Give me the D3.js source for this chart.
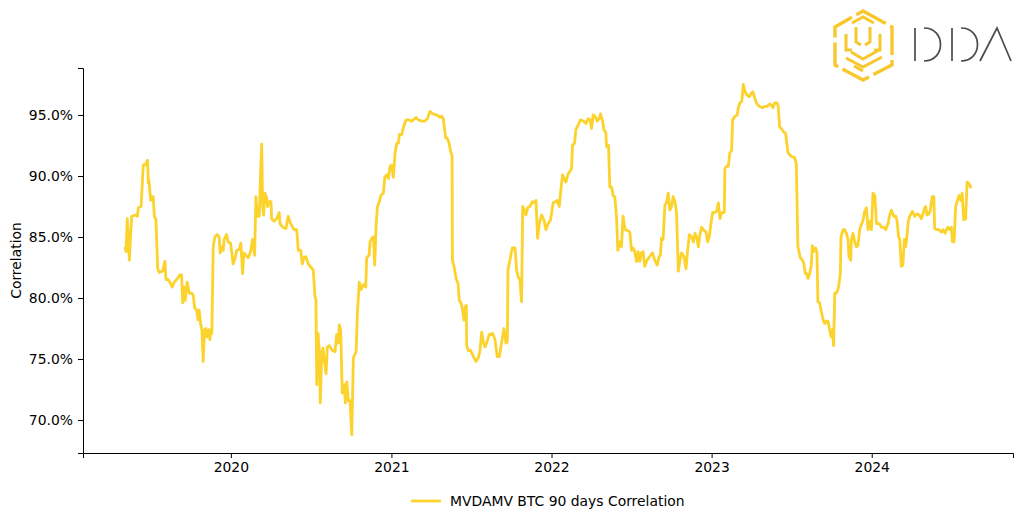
<!DOCTYPE html>
<html>
<head>
<meta charset="utf-8">
<script src="https://cdn.jsdelivr.net/npm/d3@7"></script>
<style>
  html, body { margin: 0; padding: 0; background: #ffffff; }
  svg { display: block; font-family: "DejaVu Sans", sans-serif; }
</style>
</head>
<body>
<svg id="chart" width="1023" height="524"></svg>
<script>
// ---- DATA (dates as decimal years, values in %) ----
const seriesName = "MVDAMV BTC 90 days Correlation";
const dates = [
2019.339,2019.345,2019.353,2019.366,2019.374,2019.381,2019.401,2019.416,2019.422,2019.439,
2019.453,2019.465,2019.480,2019.484,2019.488,2019.499,2019.505,2019.515,2019.522,2019.532,
2019.543,2019.553,2019.574,2019.588,2019.595,2019.609,2019.619,2019.634,2019.646,2019.661,
2019.682,2019.692,2019.699,2019.707,2019.715,2019.727,2019.740,2019.755,2019.765,2019.774,
2019.786,2019.796,2019.802,2019.811,2019.819,2019.827,2019.836,2019.844,2019.852,2019.863,
2019.869,2019.875,2019.881,2019.890,2019.900,2019.915,2019.927,2019.933,2019.944,2019.952,
2019.958,2019.973,2019.983,2019.998,2020.008,2020.014,2020.027,2020.036,2020.052,2020.062,
2020.073,2020.081,2020.094,2020.108,2020.123,2020.135,2020.148,2020.156,2020.164,2020.177,
2020.183,2020.192,2020.198,2020.204,2020.212,2020.223,2020.229,2020.239,2020.250,2020.254,
2020.268,2020.285,2020.301,2020.306,2020.323,2020.343,2020.357,2020.372,2020.385,2020.393,
2020.410,2020.420,2020.435,2020.445,2020.455,2020.466,2020.482,2020.493,2020.513,2020.524,
2020.530,2020.535,2020.543,2020.551,2020.557,2020.566,2020.574,2020.582,2020.593,2020.601,
2020.613,2020.622,2020.634,2020.649,2020.659,2020.669,2020.676,2020.684,2020.694,2020.707,
2020.713,2020.722,2020.732,2020.742,2020.753,2020.763,2020.780,2020.788,2020.800,2020.811,
2020.825,2020.840,2020.846,2020.861,2020.867,2020.878,2020.888,2020.896,2020.905,2020.913,
2020.925,2020.934,2020.950,2020.959,2020.971,2020.981,2020.992,2021.002,2021.012,2021.023,
2021.034,2021.044,2021.050,2021.065,2021.075,2021.092,2021.106,2021.127,2021.137,2021.154,
2021.168,2021.190,2021.210,2021.225,2021.241,2021.258,2021.283,2021.304,2021.314,2021.324,
2021.339,2021.349,2021.360,2021.370,2021.379,2021.381,2021.391,2021.404,2021.416,2021.424,
2021.435,2021.445,2021.453,2021.462,2021.468,2021.470,2021.480,2021.495,2021.512,2021.528,
2021.543,2021.553,2021.564,2021.574,2021.584,2021.595,2021.611,2021.632,2021.647,2021.661,
2021.674,2021.689,2021.703,2021.716,2021.724,2021.728,2021.740,2021.755,2021.772,2021.782,
2021.792,2021.803,2021.813,2021.820,2021.830,2021.840,2021.851,2021.865,2021.880,2021.890,
2021.903,2021.913,2021.924,2021.938,2021.953,2021.965,2021.979,2021.994,2022.010,2022.027,
2022.036,2022.049,2022.057,2022.069,2022.079,2022.090,2022.102,2022.115,2022.125,2022.131,
2022.144,2022.152,2022.167,2022.181,2022.198,2022.215,2022.229,2022.240,2022.250,2022.260,
2022.271,2022.285,2022.298,2022.306,2022.319,2022.327,2022.339,2022.344,2022.356,2022.364,
2022.375,2022.385,2022.395,2022.406,2022.414,2022.427,2022.437,2022.447,2022.460,2022.479,
2022.489,2022.500,2022.510,2022.520,2022.531,2022.541,2022.551,2022.562,2022.572,2022.582,
2022.597,2022.614,2022.631,2022.645,2022.660,2022.672,2022.680,2022.687,2022.697,2022.708,
2022.718,2022.729,2022.739,2022.750,2022.760,2022.771,2022.781,2022.792,2022.802,2022.812,
2022.827,2022.840,2022.850,2022.861,2022.875,2022.886,2022.896,2022.907,2022.917,2022.927,
2022.938,2022.948,2022.965,2022.975,2022.985,2022.996,2023.006,2023.017,2023.031,2023.042,
2023.052,2023.062,2023.079,2023.083,2023.094,2023.104,2023.114,2023.125,2023.131,2023.146,
2023.160,2023.167,2023.177,2023.188,2023.198,2023.209,2023.223,2023.236,2023.248,2023.258,
2023.269,2023.279,2023.290,2023.300,2023.317,2023.331,2023.346,2023.362,2023.373,2023.383,
2023.394,2023.408,2023.415,2023.425,2023.435,2023.450,2023.462,2023.471,2023.477,2023.498,
2023.519,2023.529,2023.539,2023.554,2023.567,2023.576,2023.585,2023.595,2023.602,2023.612,
2023.622,2023.629,2023.637,2023.650,2023.658,2023.664,2023.675,2023.685,2023.695,2023.706,
2023.716,2023.727,2023.737,2023.747,2023.754,2023.762,2023.769,2023.779,2023.789,2023.796,
2023.804,2023.808,2023.821,2023.831,2023.842,2023.852,2023.858,2023.869,2023.873,2023.883,
2023.894,2023.904,2023.914,2023.925,2023.935,2023.946,2023.956,2023.967,2023.977,2023.988,
2023.998,2024.008,2024.019,2024.025,2024.029,2024.046,2024.061,2024.075,2024.087,2024.102,
2024.112,2024.123,2024.137,2024.150,2024.158,2024.167,2024.175,2024.184,2024.194,2024.203,
2024.212,2024.220,2024.228,2024.237,2024.253,2024.268,2024.282,2024.295,2024.309,2024.319,
2024.330,2024.336,2024.344,2024.357,2024.365,2024.377,2024.387,2024.392,2024.402,2024.419,
2024.433,2024.444,2024.457,2024.465,2024.475,2024.486,2024.496,2024.503,2024.513,2024.523,
2024.534,2024.544,2024.554,2024.563,2024.573,2024.585,2024.594,2024.604,2024.615,2024.621
];
const correlation = [
84.2,83.8,86.5,83.1,85.3,86.7,86.8,86.7,87.4,87.5,
90.9,90.9,91.3,89.4,89.7,88.0,88.3,88.3,86.7,86.4,
82.4,82.1,82.2,83.0,81.5,81.5,81.3,80.9,81.3,81.5,
81.9,81.9,79.6,80.9,79.8,81.3,80.4,80.4,80.2,79.2,
79.0,78.2,79.0,77.9,77.4,74.8,77.4,77.5,76.8,77.4,
76.6,77.4,77.1,84.2,85.0,85.2,85.0,83.7,84.2,83.9,
84.8,85.2,84.6,84.5,83.5,82.8,83.3,83.9,84.0,84.5,
82.0,83.7,83.5,83.3,83.8,84.8,83.5,88.3,86.7,86.7,
89.4,92.6,87.5,86.8,88.6,88.2,87.5,87.9,87.9,86.5,
86.3,86.5,87.0,86.1,85.8,85.7,86.7,86.1,85.8,85.6,
85.6,83.9,83.9,82.8,83.3,83.4,82.8,82.6,82.3,80.1,
79.8,72.9,77.1,75.7,71.4,75.5,75.9,74.9,73.8,76.0,
76.1,75.9,75.7,75.6,77.0,76.3,77.8,77.4,72.2,72.9,
71.4,73.1,71.6,71.6,68.8,75.1,75.6,78.7,81.3,80.7,
81.1,80.9,83.3,83.5,84.6,84.9,85.0,82.7,86.1,87.5,
87.9,88.4,88.6,89.9,90.1,89.8,90.8,90.9,89.9,91.9,
92.7,92.7,93.4,93.4,94.0,94.6,94.6,94.5,94.6,94.8,
94.6,94.5,94.5,94.7,95.3,95.1,95.0,94.8,94.9,94.7,
93.1,93.1,92.7,92.0,91.6,83.1,82.6,81.6,81.2,79.8,
79.6,79.0,78.2,79.3,79.4,76.1,75.7,75.7,75.2,74.8,
75.1,75.7,77.2,76.4,76.0,76.3,77.0,77.1,76.6,75.2,
75.2,76.4,77.5,76.3,76.4,82.3,83.1,84.1,84.1,82.3,
81.7,81.5,79.7,87.5,87.2,86.8,87.4,87.5,87.9,87.8,
88.0,84.9,86.1,86.8,86.4,85.6,86.1,86.4,87.8,87.9,
88.0,87.5,88.7,90.1,89.8,89.5,90.1,90.4,90.6,92.5,
92.7,93.8,94.2,94.6,94.5,94.3,94.7,94.6,93.9,95.0,
94.9,94.5,94.7,95.1,94.5,93.8,93.6,92.4,92.5,89.1,
89.1,88.4,88.3,86.7,83.9,84.6,84.2,86.7,85.6,85.5,
85.4,83.9,84.1,83.8,83.0,83.8,83.0,83.7,83.8,82.6,
83.1,83.4,83.7,83.1,82.7,83.4,83.5,84.9,84.8,87.6,
87.8,88.6,87.2,87.5,88.3,87.9,87.0,82.2,83.1,83.7,
83.4,82.4,83.9,85.2,85.0,84.6,85.3,85.0,84.2,85.2,
85.8,85.6,85.4,84.6,85.0,86.1,87.0,87.0,87.1,87.8,
86.5,87.0,87.0,90.6,90.8,90.8,91.9,92.1,94.6,94.9,
95.0,95.6,96.0,96.1,97.5,96.9,96.6,96.5,96.8,96.9,
96.4,96.0,95.8,95.7,95.6,95.7,95.7,95.9,95.8,95.6,
96.0,96.0,95.8,94.0,93.9,93.6,93.5,92.5,91.9,91.6,
91.5,91.0,84.2,83.3,83.1,82.8,82.0,82.0,81.6,82.0,
82.6,84.3,83.8,84.1,83.7,79.7,79.6,78.9,78.3,77.9,
78.1,78.1,77.4,76.8,77.4,76.1,80.4,80.4,80.7,81.2,
82.0,85.0,85.6,85.6,85.3,84.8,83.4,83.1,84.8,85.3,
84.6,84.2,84.3,85.6,86.0,86.4,87.1,87.4,85.6,86.3,
85.6,88.6,88.4,87.2,86.1,86.1,85.8,85.8,85.6,86.1,
86.8,87.2,86.7,86.7,86.3,85.0,84.8,82.6,82.7,84.8,
84.2,85.2,86.3,86.7,87.1,86.7,86.9,86.8,86.5,86.9,
87.4,87.5,86.8,86.9,87.2,88.3,88.3,85.7,85.6,85.6,
85.4,85.6,85.3,85.6,85.8,85.6,85.8,84.6,84.6,87.5,
88.0,88.4,88.0,88.6,86.4,86.5,89.5,89.4,89.1,89.0
];
const yTicks = [70, 75, 80, 85, 90, 95];
const xTickYears = [2020, 2021, 2022, 2023, 2024];
const xDomainYears = [2019.0764, 2024.880];
const yDomain = [67.3, 98.85];

// ---- helpers ----
function decYearToDate(y) {
  const yr = Math.floor(y);
  const s = Date.UTC(yr, 0, 1), e = Date.UTC(yr + 1, 0, 1);
  return new Date(s + (y - yr) * (e - s));
}
const data = dates.map((d, i) => ({ date: decYearToDate(d), value: correlation[i] }));

const svg = d3.select("#chart");
const margin = { left: 83, right: 10, top: 68, bottom: 71 };
const W = 1023, H = 524;
const x = d3.scaleUtc()
  .domain(xDomainYears.map(decYearToDate))
  .range([margin.left, W - margin.right]);
const y = d3.scaleLinear()
  .domain(yDomain)
  .range([H - margin.bottom, margin.top]);

const lineColor = "#FCD22C";
const textColor = "#000000";
const fs = 13.9;

// axes
const xAxis = d3.axisBottom(x)
  .tickValues(xTickYears.map(yy => new Date(Date.UTC(yy, 0, 1))))
  .tickFormat(d3.utcFormat("%Y"))
  .tickSizeOuter(0).tickSize(5).tickPadding(4);
const yAxis = d3.axisLeft(y)
  .tickValues(yTicks)
  .tickFormat(d => d.toFixed(1) + "%")
  .tickSizeOuter(0).tickSize(5).tickPadding(5);

const gx = svg.append("g")
  .attr("transform", `translate(0,${H - margin.bottom})`)
  .call(xAxis);
const gy = svg.append("g")
  .attr("transform", `translate(${margin.left},0)`)
  .call(yAxis);
[gx, gy].forEach(g => {
  g.selectAll("text").attr("font-family", "DejaVu Sans").attr("font-size", fs).attr("fill", textColor);
  g.selectAll("line").attr("stroke", "#000").attr("stroke-width", 1);
  g.select(".domain").attr("stroke", "#000").attr("stroke-width", 1);
});

// y label
svg.append("text")
  .attr("transform", `translate(21,${(margin.top + H - margin.bottom) / 2}) rotate(-90)`)
  .attr("text-anchor", "middle")
  .attr("font-size", fs)
  .attr("fill", textColor)
  .text("Correlation");

// line
const line = d3.line().x(d => x(d.date)).y(d => y(d.value));
svg.append("path")
  .datum(data)
  .attr("fill", "none")
  .attr("stroke", lineColor)
  .attr("stroke-width", 2.8)
  .attr("stroke-linejoin", "round")
  .attr("d", line);

// legend
const lg = svg.append("g");
lg.append("line").attr("x1", 411).attr("x2", 441).attr("y1", 501).attr("y2", 501)
  .attr("stroke", lineColor).attr("stroke-width", 2.8);
lg.append("text").attr("x", 450).attr("y", 506)
  .attr("font-size", fs).attr("fill", textColor).text(seriesName);

// logo (DDA)
const logo = svg.append("g");
const gold = "#F8C72C";
logo.append("path")
  .attr("d", "M863,11 L892,27 L892,65 L863,80 L835,65 L835,27 Z")
  .attr("fill", "none").attr("stroke", gold).attr("stroke-width", 3.4)
  .attr("stroke-dasharray", "26 5 30 5 26 5 30 5");
const inner = [
  "M852,23 L863,17 L874,23",
  "M846,34 L846,50 L852,50",
  "M880,34 L880,50 L874,50",
  "M856,27 L856,42 L861,45",
  "M870,27 L870,42 L865,45",
  "M846,58 L863,67 L882,57",
  "M851,52 L863,59 L879,50",
  "M863,71 L854,66"
];
inner.forEach(d => logo.append("path").attr("d", d).attr("fill", "none")
  .attr("stroke", gold).attr("stroke-width", 3).attr("stroke-linejoin", "miter"));
const grey = "#4a4a50";
[
  "M915,28 L915,61",
  "M924,28 C946,28 946,61 924,61",
  "M952,28 L952,61",
  "M961,28 C983,28 983,61 961,61",
  "M980,61 L997,28 L1011,61"
].forEach(d => logo.append("path").attr("d", d).attr("fill", "none")
  .attr("stroke", grey).attr("stroke-width", 1.7));
</script>
</body>
</html>
